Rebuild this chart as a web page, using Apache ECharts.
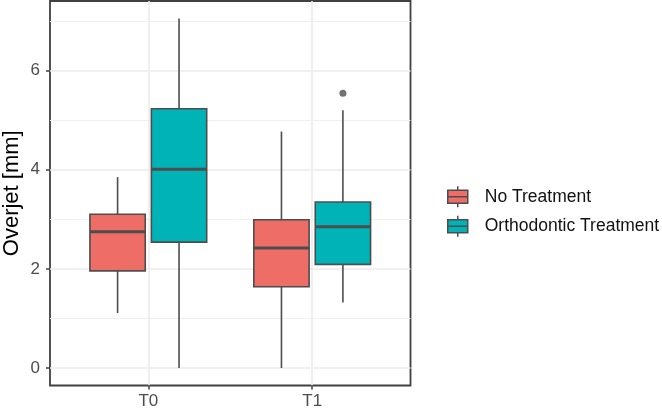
<!DOCTYPE html>
<html>
<head>
<meta charset="utf-8">
<script src="https://cdn.jsdelivr.net/npm/echarts@6/dist/echarts.min.js"></script>
<style>html,body{margin:0;padding:0;background:#fff}#c{width:662px;height:414px}</style>
</head>
<body>
<div id="c"></div>
<script>
// ---- data ----
const categories = ['T0', 'T1'];
const seriesNames = ['No Treatment', 'Orthodontic Treatment'];
// [lower whisker, Q1, median, Q3, upper whisker] per category
const noTreatment = [[1.11, 1.96, 2.75, 3.10, 3.85], [0.00, 1.64, 2.42, 2.99, 4.77]];
const orthodontic = [[0.00, 2.54, 4.01, 5.23, 7.05], [1.32, 2.09, 2.85, 3.35, 5.20]];
// outliers: [category, value]
const orthoOutliers = [['T1', 5.54]];
const yTicks = [0, 2, 4, 6];
const yMinor = [1, 3, 5, 7];

// ---- layout constants ----
const colors = ['#EE6D66', '#00B3B6'];
const lineCol = '#4d4d4d';
const dodge = [-0.1875, 0.1875];
const halfBox = 0.16875;

function boxRender(sIdx) {
  return function (params, api) {
    const xc = api.value(0) + dodge[sIdx];
    const pLow = api.coord([xc, api.value(1)]);
    const pQ1 = api.coord([xc, api.value(2)]);
    const pMed = api.coord([xc, api.value(3)]);
    const pQ3 = api.coord([xc, api.value(4)]);
    const pHigh = api.coord([xc, api.value(5)]);
    const hw = api.size([halfBox, 0])[0];
    const x = pMed[0];
    return {
      type: 'group',
      children: [
        {type: 'line', shape: {x1: x, y1: pHigh[1], x2: x, y2: pQ3[1]}, style: {stroke: lineCol, lineWidth: 1.6}},
        {type: 'line', shape: {x1: x, y1: pQ1[1], x2: x, y2: pLow[1]}, style: {stroke: lineCol, lineWidth: 1.6}},
        {type: 'rect', shape: {x: x - hw, y: pQ3[1], width: 2 * hw, height: pQ1[1] - pQ3[1]},
          style: {fill: colors[sIdx], stroke: lineCol, lineWidth: 1.6}},
        {type: 'line', shape: {x1: x - hw, y1: pMed[1], x2: x + hw, y2: pMed[1]}, style: {stroke: lineCol, lineWidth: 3}}
      ]
    };
  };
}

function toData(arr) {
  return arr.map((v, i) => [i + 1].concat(v));
}

const chart = echarts.init(document.getElementById('c'), null, {renderer: 'canvas'});
const font = 'Liberation Sans, Arial, Helvetica, sans-serif';
const option = {
  animation: false,
  grid: {left: 50, right: 251.5, top: 1, bottom: 28.5, containLabel: false, outerBoundsMode: 'none',
    show: true, borderColor: '#404040', borderWidth: 1.8, backgroundColor: 'transparent'},
  xAxis: {
    type: 'value', min: 0.4, max: 2.6,
    axisLine: {show: false, onZero: false},
    axisTick: {show: true, customValues: [1, 2], length: 4, lineStyle: {color: '#404040', width: 1.5}},
    axisLabel: {customValues: [1, 2], formatter: v => categories[Math.round(v) - 1], color: '#4d4d4d', fontSize: 17, fontFamily: font, margin: 7},
    splitLine: {show: true, lineStyle: {color: '#ebebeb', width: 1.6}}
  },
  yAxis: [{
    type: 'value', min: -0.3525, max: 7.4025,
    name: 'Overjet [mm]', nameLocation: 'middle', nameGap: 27, nameMoveOverlap: false,
    nameTextStyle: {color: '#000', fontSize: 22, fontFamily: font},
    axisLine: {show: false, onZero: false},
    axisTick: {show: true, customValues: yTicks, length: 4, lineStyle: {color: '#404040', width: 1.5}},
    axisLabel: {customValues: yTicks, color: '#4d4d4d', fontSize: 17, fontFamily: font, margin: 10},
    splitLine: {show: true, lineStyle: {color: '#ebebeb', width: 1.6}}
  }, {
    type: 'value', min: -0.3525, max: 7.4025, position: 'left',
    axisLine: {show: false, onZero: false},
    axisTick: {show: false, customValues: yMinor},
    axisLabel: {show: false},
    splitLine: {show: true, lineStyle: {color: '#efefef', width: 1}}
  }],
  legend: {
    orient: 'vertical', left: 447, top: 185.5, padding: 0,
    itemWidth: 20, itemHeight: 21, itemGap: 7,
    data: seriesNames.map(n => ({name: n, icon: 'path://M0,4 L20,4 L20,17 L0,17 Z M0,10.5 L20,10.5 M10,0 L10,4 M10,17 L10,21'})),
    itemStyle: {borderColor: lineCol, borderWidth: 1.5},
    textStyle: {color: '#111', fontSize: 17.5, fontFamily: font, padding: [0, 0, 0, 12]}
  },
  series: [
    {name: seriesNames[0], type: 'custom', renderItem: boxRender(0), itemStyle: {color: colors[0]},
      encode: {x: 0, y: [1, 2, 3, 4, 5]}, data: toData(noTreatment)},
    {name: seriesNames[1], type: 'custom', renderItem: boxRender(1), itemStyle: {color: colors[1]},
      encode: {x: 0, y: [1, 2, 3, 4, 5]}, data: toData(orthodontic)},
    {name: seriesNames[1] + ' outliers', type: 'scatter', symbolSize: 7, itemStyle: {color: lineCol},
      data: orthoOutliers.map(o => [categories.indexOf(o[0]) + 1 + dodge[1], o[1]]), z: 3}
  ]
};
chart.setOption(option);
</script>
</body>
</html>
